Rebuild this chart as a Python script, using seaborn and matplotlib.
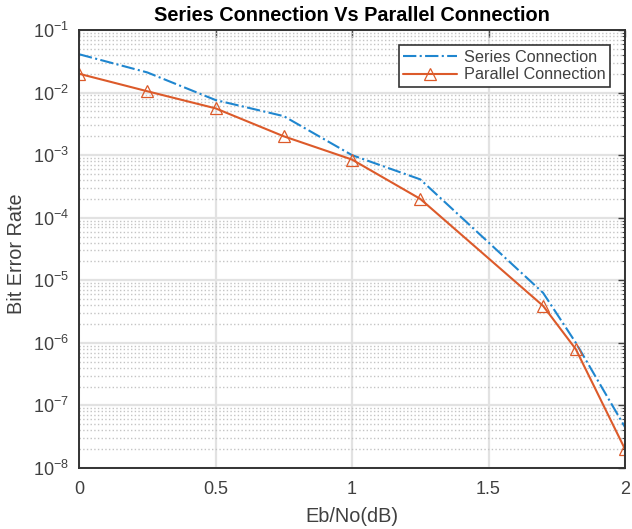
import numpy as np
import pandas as pd
import matplotlib
matplotlib.use("Agg")
import matplotlib.pyplot as plt
import matplotlib.ticker as mticker
import seaborn as sns

# data
ebno = [0, 0.25, 0.5, 0.75, 1.0, 1.25, 1.7, 1.82, 2.0]
ber_series = [4.1e-2, 2.1e-2, 7.6e-3, 4.2e-3, 1.0e-3, 4.1e-4, 6.3e-6, 1.0e-6, 4.5e-8]
ber_parallel = [2.0e-2, 1.05e-2, 5.6e-3, 2.0e-3, 8.5e-4, 2.0e-4, 3.9e-6, 7.9e-7, 2.0e-8]

df_s = pd.DataFrame({"x": ebno, "y": ber_series})
df_p = pd.DataFrame({"x": ebno, "y": ber_parallel})

sns.set_theme(style="white")
plt.rcParams['font.family'] = ['Liberation Sans', 'DejaVu Sans']
plt.rcParams['mathtext.fontset'] = 'custom'
plt.rcParams['mathtext.rm'] = 'Liberation Sans'
txt = '#404040'

fig = plt.figure(figsize=(6.32, 5.29), dpi=100, facecolor='white')
ax = fig.add_axes([79 / 632, 1 - 468 / 529, 546 / 632, 438 / 529])

blue = '#1f86cf'
orange = '#dc5a2a'
sns.lineplot(data=df_s, x='x', y='y', ax=ax, color=blue, linewidth=1.5,
             linestyle='-.', label='Series Connection')
sns.lineplot(data=df_p, x='x', y='y', ax=ax, color=orange, linewidth=1.5,
             marker='^', markersize=9, markerfacecolor='none',
             markeredgecolor=orange, markeredgewidth=0.9,
             label='Parallel Connection')

ax.set_yscale('log')
ax.set_xlim(0, 2)
ax.set_ylim(1e-8, 1e-1)
ax.set_xticks([0, 0.5, 1, 1.5, 2])
ax.set_xticklabels(['0', '0.5', '1', '1.5', '2'])
ax.yaxis.set_major_locator(mticker.LogLocator(base=10, numticks=20))
ax.yaxis.set_minor_locator(mticker.LogLocator(base=10, subs=np.arange(2, 10), numticks=20))
ax.yaxis.set_minor_formatter(mticker.NullFormatter())

ax.grid(True, which='major', axis='both', color='#e2e2e2', linewidth=1.6, linestyle='-')
ax.grid(True, which='minor', axis='y', color='#c4c4c4', linewidth=1.0, linestyle=':')
ax.set_axisbelow(True)

ax.tick_params(axis='both', which='both', direction='in', top=True, right=True,
               colors=txt, labelsize=13)
ax.tick_params(which='major', length=5, width=1.0)
ax.tick_params(which='minor', length=2.5, width=0.8)
ax.tick_params(axis='x', pad=9)
ax.tick_params(axis='y', pad=7)
for s in ax.spines.values():
    s.set_color('#333333')
    s.set_linewidth(1.4)

ax.set_xlabel('Eb/No(dB)', fontsize=14.3, color=txt, va='center')
ax.xaxis.set_label_coords(0.5, (468 - 516) / 438)
ax.set_ylabel('Bit Error Rate', fontsize=14.3, color=txt, va='center')
ax.yaxis.set_label_coords((17 - 79) / 546, 0.49)
ax.set_title('Series Connection Vs Parallel Connection', fontsize=14.3,
             fontweight='bold', color='black', va='center', y=1 + 15 / 438, pad=0)

leg = ax.legend(loc='upper right', bbox_to_anchor=((610 - 79) / 546, 1 - 15 / 438),
                borderaxespad=0, fontsize=11.7, frameon=True, fancybox=False,
                handlelength=3.3, borderpad=0.3, labelspacing=0.15,
                handletextpad=0.4, framealpha=1)
leg.get_frame().set_edgecolor('#333333')
leg.get_frame().set_linewidth(1.2)
for t in leg.get_texts():
    t.set_color(txt)

fig.savefig('out.png', dpi=100, facecolor='white')
